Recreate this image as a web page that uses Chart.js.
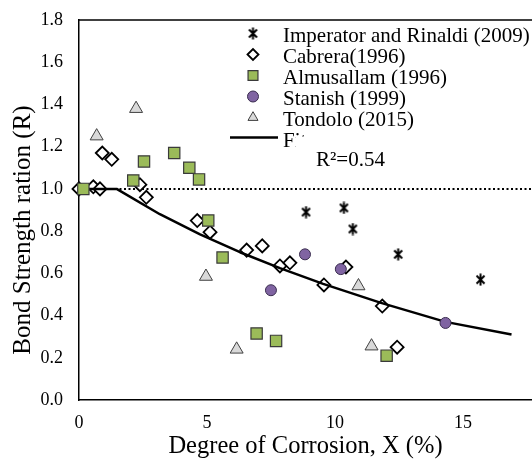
<!DOCTYPE html>
<html>
<head>
<meta charset="utf-8">
<script src="https://cdn.jsdelivr.net/npm/chart.js@4.4.1/dist/chart.umd.min.js"></script>
<style>
  html, body { margin: 0; padding: 0; background: #fff; }
  #wrap { width: 532px; height: 459px; }
</style>
</head>
<body>
<div id="wrap"><canvas id="chart" width="532" height="459"></canvas></div>
<script>
// values
const imperatorX = [8.87, 10.35, 10.70, 12.47, 15.69];
const imperatorY = [0.89, 0.91, 0.81, 0.69, 0.57];

const cabreraX = [0, 0.56, 0.82, 0.91, 1.28, 2.38, 2.63, 4.62, 5.12, 6.55, 7.16, 7.85, 8.24, 9.57, 10.43, 11.85, 12.43];
const cabreraY = [1.0, 1.01, 1.0, 1.17, 1.14, 1.02, 0.96, 0.85, 0.795, 0.71, 0.73, 0.635, 0.65, 0.545, 0.63, 0.445, 0.25];

const almusallamX = [0.17, 2.12, 2.54, 3.72, 4.31, 4.69, 5.05, 5.61, 6.94, 7.70, 12.02];
const almusallamY = [1.0, 1.04, 1.13, 1.17, 1.10, 1.045, 0.85, 0.675, 0.315, 0.28, 0.21];

const stanishX = [7.5, 8.83, 10.23, 14.32];
const stanishY = [0.52, 0.69, 0.62, 0.365];

const tondoloX = [0.69, 2.23, 4.96, 6.16, 10.92, 11.43];
const tondoloY = [1.25, 1.38, 0.585, 0.24, 0.54, 0.255];

const fitX = [0, 1.47, 3.16, 4.73, 6.29, 7.85, 9.54, 11.8, 14.32, 16.9];
const fitY = [1.0, 1.0, 0.88, 0.785, 0.70, 0.625, 0.55, 0.46, 0.37, 0.31];

const refX = [0, 17.7];
const refY = [1.0, 1.0];

const seriesNames = ['Imperator and Rinaldi (2009)', 'Cabrera(1996)', 'Almusallam (1996)', 'Stanish (1999)', 'Tondolo (2015)', 'Fit'];
const xTitle = 'Degree of Corrosion, X (%)';
const yTitle = 'Bond Strength ration (R)';
const r2Label = 'R\u00B2=0.54';

const serif = '"Liberation Serif", "Times New Roman", serif';
Chart.defaults.font.family = serif;
Chart.defaults.color = '#000';

function toPoints(xs, ys) {
  return xs.map((x, i) => ({ x: x, y: ys[i] }));
}

// excel style asterisk: an x with a vertical bar
const asterisk = document.createElement('canvas');
asterisk.width = 13;
asterisk.height = 13;
(function () {
  const c = asterisk.getContext('2d');
  c.strokeStyle = '#000';
  c.lineWidth = 2;
  c.beginPath();
  c.moveTo(2.5, 2.5); c.lineTo(10.5, 10.5);
  c.moveTo(10.5, 2.5); c.lineTo(2.5, 10.5);
  c.moveTo(6.5, 0.5); c.lineTo(6.5, 12.5);
  c.stroke();
})();

// scales should not push the plot area around
function noPadding(s) {
  s.paddingTop = 0;
  s.paddingBottom = 0;
  s.paddingLeft = 0;
  s.paddingRight = 0;
}

// legend, y title, frame top and the R2 note
const overlay = {
  id: 'overlay',
  afterDraw(chart) {
    const { ctx, chartArea } = chart;
    ctx.save();
    ctx.strokeStyle = '#000';
    ctx.lineWidth = 1.5;
    ctx.beginPath();
    ctx.moveTo(chartArea.left, chartArea.top);
    ctx.lineTo(chartArea.right, chartArea.top);
    ctx.stroke();

    ctx.fillStyle = '#000';
    ctx.font = '25px ' + serif;
    ctx.textAlign = 'center';
    ctx.textBaseline = 'alphabetic';
    ctx.save();
    ctx.translate(30, 230);
    ctx.rotate(-Math.PI / 2);
    ctx.fillText(yTitle, 0, 0);
    ctx.restore();

    ctx.font = '21px ' + serif;
    ctx.textAlign = 'left';
    chart.data.datasets.forEach(ds => {
      if (ds.legendRow === undefined) return;
      const base = 42 + ds.legendRow * 21;
      if (ds.showLine) {
        ctx.strokeStyle = ds.borderColor;
        ctx.lineWidth = ds.borderWidth;
        ctx.beginPath();
        ctx.moveTo(230, base - 9.5);
        ctx.lineTo(278, base - 9.5);
        ctx.stroke();
      } else {
        ctx.fillStyle = ds.backgroundColor;
        ctx.strokeStyle = ds.borderColor;
        ctx.lineWidth = ds.borderWidth;
        Chart.helpers.drawPoint(ctx, {
          pointStyle: ds.pointStyle,
          radius: ds.legendRadius,
          borderWidth: ds.borderWidth,
          rotation: 0
        }, 253, base - 8.5);
      }
      ctx.fillStyle = '#000';
      ctx.fillText(ds.label, 283, base);
    });

    // the R2 text box hides part of the last legend entry, as in the original
    ctx.fillStyle = '#fff';
    ctx.fillRect(295.5, 136.5, 102, 36);
    ctx.fillStyle = '#000';
    ctx.fillText(r2Label, 316, 166);
    ctx.restore();
  }
};

new Chart(document.getElementById('chart'), {
  type: 'scatter',
  data: {
    datasets: [
      {
        label: seriesNames[0],
        data: toPoints(imperatorX, imperatorY),
        pointStyle: asterisk,
        pointRadius: 6,
        backgroundColor: '#000',
        borderColor: '#000',
        borderWidth: 1.8,
        legendRow: 0,
        legendRadius: 6,
        order: 1
      },
      {
        label: seriesNames[1],
        data: toPoints(cabreraX, cabreraY),
        pointStyle: 'rectRot',
        pointRadius: 6.5,
        backgroundColor: '#fff',
        borderColor: '#000',
        borderWidth: 1.8,
        legendRow: 1,
        legendRadius: 5.5,
        order: 6
      },
      {
        label: seriesNames[2],
        data: toPoints(almusallamX, almusallamY),
        pointStyle: 'rect',
        pointRadius: 8,
        backgroundColor: '#9BBB59',
        borderColor: '#3a3a3a',
        borderWidth: 1.2,
        legendRadius: 7,
        legendRow: 2,
        order: 4
      },
      {
        label: seriesNames[3],
        data: toPoints(stanishX, stanishY),
        pointStyle: 'circle',
        pointRadius: 5.5,
        backgroundColor: '#8064A2',
        borderColor: '#3a2d4f',
        borderWidth: 1,
        legendRadius: 5.5,
        legendRow: 3,
        order: 3
      },
      {
        label: seriesNames[4],
        data: toPoints(tondoloX, tondoloY),
        pointStyle: 'triangle',
        pointRadius: 7.5,
        backgroundColor: '#D9D9D9',
        borderColor: '#404040',
        borderWidth: 1,
        legendRadius: 5.8,
        legendRow: 4,
        order: 2
      },
      {
        label: seriesNames[5],
        data: toPoints(fitX, fitY),
        showLine: true,
        tension: 0,
        borderJoinStyle: 'round',
        pointRadius: 0,
        borderColor: '#000',
        borderWidth: 2.5,
        legendRow: 5,
        order: 5
      },
      {
        label: 'R = 1',
        data: toPoints(refX, refY),
        showLine: true,
        pointRadius: 0,
        borderColor: '#000',
        borderWidth: 2,
        borderDash: [2, 2.5],
        order: 7
      }
    ]
  },
  options: {
    responsive: false,
    animation: false,
    clip: false,
    layout: { autoPadding: false, padding: { top: 20, left: 0, right: 0, bottom: 0 } },
    plugins: {
      legend: { display: false },
      tooltip: { enabled: false }
    },
    scales: {
      x: {
        type: 'linear',
        min: 0,
        max: 17.7,
        grid: { display: false, drawTicks: false },
        border: { display: true, color: '#000', width: 1.5 },
        ticks: { stepSize: 5, padding: 12, font: { size: 18 }, color: '#000' },
        afterBuildTicks: s => { s.ticks = s.ticks.filter(t => t.value % 5 === 0); },
        title: {
          display: true,
          text: xTitle,
          font: { size: 24.5, lineHeight: 1 },
          color: '#000',
          padding: { top: 0, bottom: 0 }
        },
        afterFit: s => { s.height = 59; noPadding(s); }
      },
      y: {
        min: 0,
        max: 1.8,
        grid: { display: false, drawTicks: false },
        border: { display: true, color: '#000', width: 1.5 },
        ticks: {
          stepSize: 0.2,
          padding: 16,
          font: { size: 18 },
          color: '#000',
          callback: v => v.toFixed(1)
        },
        afterFit: s => { s.width = 79; noPadding(s); }
      }
    }
  },
  plugins: [overlay]
});
</script>
</body>
</html>
